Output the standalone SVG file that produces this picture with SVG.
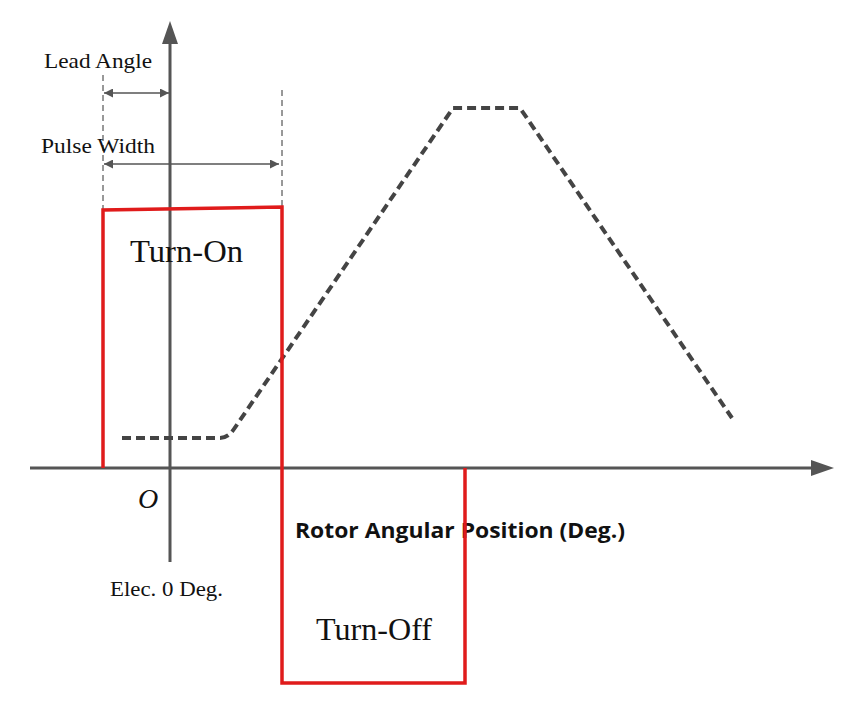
<svg xmlns="http://www.w3.org/2000/svg" width="846" height="703" viewBox="0 0 846 703">
<style>
.ser{font-family:"Liberation Serif","Times New Roman",serif;fill:#111}
.axis{stroke:#555;stroke-width:3;fill:none}
.guide{stroke:#333;stroke-width:1;stroke-dasharray:6,4;fill:none}
.dim{stroke:#555;stroke-width:1.5;fill:none}
.pulse{stroke:#e01b1b;stroke-width:3.5;fill:none;stroke-linejoin:miter}
.curve{stroke:#444;stroke-width:4;stroke-dasharray:9,5;fill:none}
</style>
<defs>
<marker id="ah" viewBox="0 0 10 10" refX="10" refY="5" markerWidth="9" markerHeight="9" markerUnits="userSpaceOnUse" orient="auto-start-reverse"><path d="M0,0 L10,5 L0,10 Z" fill="#555"/></marker>
</defs>
<rect width="846" height="703" fill="#fff"/>
<g id="axes">
<line class="axis" x1="170" y1="40" x2="170" y2="562"/>
<path d="M170,21 L178,44 L162,44 Z" fill="#555"/>
<line class="axis" x1="30" y1="468" x2="815" y2="468"/>
<path d="M834,468 L811,460 L811,476 Z" fill="#555"/>
</g>
<g id="guides">
<line class="guide" x1="103" y1="75" x2="103" y2="210"/>
<line class="guide" x1="282" y1="90" x2="282" y2="208"/>
</g>
<g id="connectors">
<line class="dim" x1="104" y1="93" x2="169" y2="93" marker-start="url(#ah)" marker-end="url(#ah)"/>
<line class="dim" x1="104" y1="164" x2="279" y2="164" marker-start="url(#ah)" marker-end="url(#ah)"/>
</g>
<g id="labels">
<text class="ser" x="44" y="68" font-size="22" textLength="108" lengthAdjust="spacingAndGlyphs">Lead Angle</text>
<text class="ser" x="41" y="153" font-size="22" textLength="114" lengthAdjust="spacingAndGlyphs">Pulse Width</text>
<text class="ser" x="130" y="262" font-size="32" textLength="113" lengthAdjust="spacingAndGlyphs">Turn-On</text>
<text class="ser" x="138" y="508" font-size="28" font-style="italic">O</text>
<text x="295" y="538" font-size="21" font-weight="bold" font-family="'Open Sans','Liberation Sans',sans-serif" fill="#111" textLength="330" lengthAdjust="spacingAndGlyphs">Rotor Angular Position (Deg.)</text>
<text class="ser" x="110" y="596" font-size="21" textLength="113" lengthAdjust="spacingAndGlyphs">Elec. 0 Deg.</text>
<text class="ser" x="316" y="640" font-size="32" textLength="116" lengthAdjust="spacingAndGlyphs">Turn-Off</text>
</g>
<g id="back-emf">
<path class="curve" d="M122,438 L220,438 Q228,438 234,429 L453,108 L520,108 L732,418"/>
</g>
<g id="pulse">
<path class="pulse" d="M103,468 L103,210 L282,207 L282,683 L465,683 L465,468"/>
</g>
</svg>
